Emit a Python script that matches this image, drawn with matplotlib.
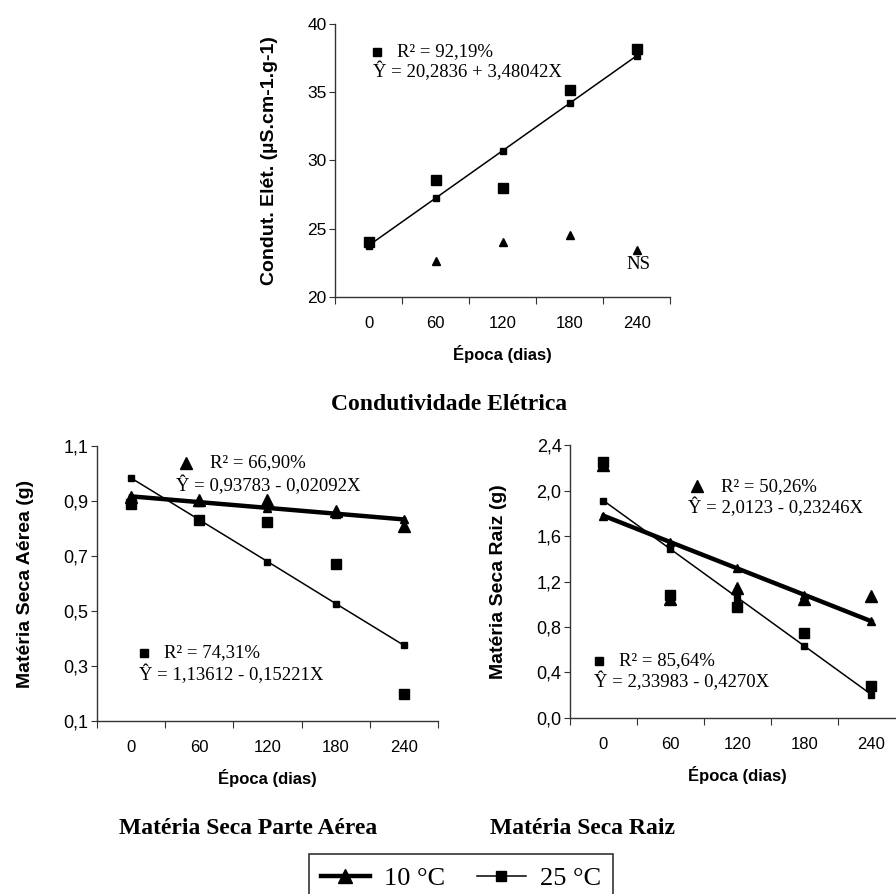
import matplotlib
matplotlib.use('Agg')
import matplotlib.pyplot as plt
from matplotlib.lines import Line2D
from matplotlib.ticker import FixedLocator, FuncFormatter

# dados
epocas = ['0', '60', '120', '180', '240']

# Condutividade elétrica
ce_10_obs = [24.1, 22.6, 24.0, 24.5, 23.4]
ce_25_obs = [24.0, 28.6, 28.0, 35.2, 38.2]
ce_25_fit = [23.76, 27.24, 30.72, 34.20, 37.68]

# Matéria seca parte aérea
msa_10_obs = [0.915, 0.905, 0.905, 0.865, 0.81]
msa_10_fit = [0.917, 0.896, 0.875, 0.854, 0.833]
msa_25_obs = [0.89, 0.83, 0.825, 0.67, 0.20]
msa_25_fit = [0.984, 0.832, 0.680, 0.527, 0.375]

# Matéria seca raiz
msr_10_obs = [2.23, 1.05, 1.14, 1.05, 1.07]
msr_10_fit = [1.780, 1.547, 1.315, 1.083, 0.850]
msr_25_obs = [2.25, 1.08, 0.98, 0.75, 0.28]
msr_25_fit = [1.913, 1.486, 1.059, 0.632, 0.205]

serif = 'Liberation Serif'
sans = 'Liberation Sans'
plt.rcParams['font.family'] = sans

fig = plt.figure(figsize=(8.96, 8.94), dpi=100)

ax_ce = fig.add_axes([0.374, 0.668, 0.374, 0.305])
ax_msa = fig.add_axes([0.108, 0.1935, 0.381, 0.3076])
ax_msr = fig.add_axes([0.636, 0.197, 0.374, 0.305])

x = list(range(len(epocas)))
ann = 13.5


def style_axes(ax, ylim, yticks, ylabel, fmt, ysize=13):
    ax.set_xlim(-0.5, 4.5)
    ax.set_ylim(*ylim)
    ax.spines['top'].set_visible(False)
    ax.spines['right'].set_visible(False)
    for s in ['left', 'bottom']:
        ax.spines[s].set_linewidth(1.0)
        ax.spines[s].set_color('#333333')
    ax.xaxis.set_major_locator(FixedLocator([-0.5, 0.5, 1.5, 2.5, 3.5, 4.5]))
    ax.xaxis.set_major_formatter(FuncFormatter(lambda v, p: ''))
    ax.xaxis.set_minor_locator(FixedLocator(x))
    ax.set_xticklabels(epocas, minor=True)
    ax.tick_params(axis='x', which='major', length=5, direction='out', color='#333333')
    ax.tick_params(axis='x', which='minor', length=0, pad=14, labelsize=12)
    ax.set_yticks(yticks)
    ax.yaxis.set_major_formatter(FuncFormatter(fmt))
    ax.tick_params(axis='y', length=4, direction='out', pad=2, labelsize=ysize, color='#333333')
    ax.set_xlabel('Época (dias)', fontsize=12, fontweight='bold', labelpad=10)
    ax.set_ylabel(ylabel, fontsize=14, fontweight='bold', labelpad=21)


def plot_fit(ax, fit, marker, lw, ms):
    ax.plot(x, fit, color='black', lw=lw, marker=marker, ms=ms, zorder=3)


def plot_obs(ax, obs, marker, ms):
    ax.plot(x, obs, ls='none', color='black', marker=marker, ms=ms, zorder=4)


# --- Condutividade elétrica
style_axes(ax_ce, (20, 40), [20, 25, 30, 35, 40], 'Condut. Elét. (µS.cm-1.g-1)',
           lambda v, p: f'{v:.0f}', ysize=12.5)
plot_fit(ax_ce, ce_25_fit, 's', 1.1, 4.5)
plot_obs(ax_ce, ce_10_obs, '^', 6)
plot_obs(ax_ce, ce_25_obs, 's', 7.5)
ax_ce.plot([0.127], [37.95], 's', color='black', ms=6)
ax_ce.text(0.425, 37.95, 'R\u00b2 = 92,19%', family=serif, fontsize=ann, va='center')
ax_ce.text(0.067, 36.56, '\u0176 = 20,2836 + 3,48042X', family=serif, fontsize=ann, va='center')
ax_ce.text(4.02, 22.34, 'NS', family=serif, fontsize=ann, va='center', ha='center')

comma = lambda v, p: f'{v:.1f}'.replace('.', ',')

# --- Matéria seca parte aérea
style_axes(ax_msa, (0.1, 1.1), [0.1, 0.3, 0.5, 0.7, 0.9, 1.1], 'Matéria Seca Aérea (g)', comma)
plot_fit(ax_msa, msa_25_fit, 's', 1.1, 4.5)
plot_fit(ax_msa, msa_10_fit, '^', 3.2, 6)
plot_obs(ax_msa, msa_25_obs, 's', 7.5)
plot_obs(ax_msa, msa_10_obs, '^', 8)
ax_msa.plot([0.805], [1.038], '^', color='black', ms=9)
ax_msa.text(1.157, 1.038, 'R\u00b2 = 66,90%', family=serif, fontsize=ann, va='center')
ax_msa.text(0.658, 0.958, '\u0176 = 0,93783 - 0,02092X', family=serif, fontsize=ann, va='center')
ax_msa.plot([0.189], [0.347], 's', color='black', ms=6)
ax_msa.text(0.482, 0.347, 'R\u00b2 = 74,31%', family=serif, fontsize=ann, va='center')
ax_msa.text(0.116, 0.271, '\u0176 = 1,13612 - 0,15221X', family=serif, fontsize=ann, va='center')

# --- Matéria seca raiz
style_axes(ax_msr, (0.0, 2.4), [0.0, 0.4, 0.8, 1.2, 1.6, 2.0, 2.4], 'Matéria Seca Raiz (g)', comma)
plot_fit(ax_msr, msr_25_fit, 's', 1.1, 4.5)
plot_fit(ax_msr, msr_10_fit, '^', 3.2, 6)
plot_obs(ax_msr, msr_10_obs, '^', 8)
plot_obs(ax_msr, msr_25_obs, 's', 7.5)
ax_msr.plot([1.392], [2.04], '^', color='black', ms=9)
ax_msr.text(1.762, 2.04, 'R\u00b2 = 50,26%', family=serif, fontsize=ann, va='center')
ax_msr.text(1.269, 1.855, '\u0176 = 2,0123 - 0,23246X', family=serif, fontsize=ann, va='center')
ax_msr.plot([-0.069], [0.501], 's', color='black', ms=6)
ax_msr.text(0.238, 0.501, 'R\u00b2 = 85,64%', family=serif, fontsize=ann, va='center')
ax_msr.text(-0.146, 0.317, '\u0176 = 2,33983 - 0,4270X', family=serif, fontsize=ann, va='center')

# títulos
fig.text(449 / 896, 1 - 405 / 894, 'Condutividade Elétrica', family=serif, fontsize=17,
         fontweight='bold', ha='center', va='center')
fig.text(248 / 896, 1 - 829 / 894, 'Matéria Seca Parte Aérea', family=serif, fontsize=17,
         fontweight='bold', ha='center', va='center')
fig.text(582 / 896, 1 - 829 / 894, 'Matéria Seca Raiz', family=serif, fontsize=17,
         fontweight='bold', ha='center', va='center')

# legenda
handles = [
    Line2D([], [], color='black', lw=3.2, marker='^', ms=10),
    Line2D([], [], color='black', lw=1.1, marker='s', ms=7),
]
leg = fig.legend(handles, ['10 °C', '25 °C'], loc='center', bbox_to_anchor=(461 / 896, 1 - 878 / 894),
                 ncol=2, frameon=True, fancybox=False, edgecolor='black', handlelength=1.85,
                 handletextpad=0.55, columnspacing=1.2, borderpad=0.45,
                 prop={'family': serif, 'size': 19})
leg.get_frame().set_linewidth(1.2)

fig.savefig('out.png', dpi=100)
